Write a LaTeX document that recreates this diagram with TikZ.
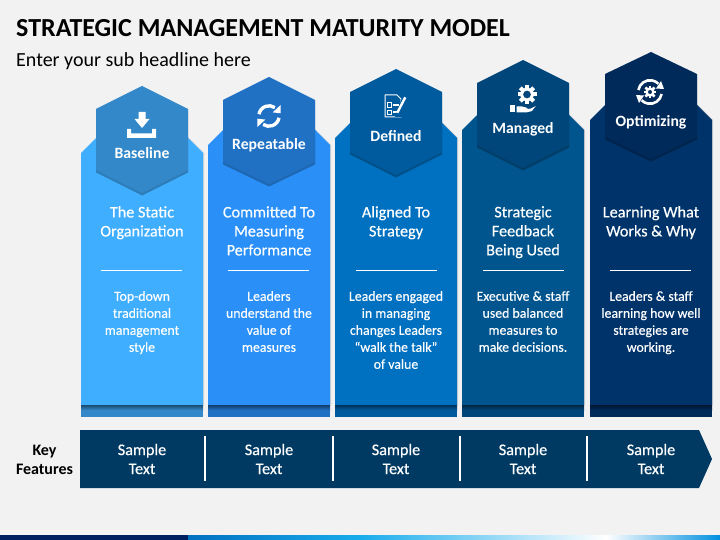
\documentclass[tikz,border=0pt]{standalone}
\usepackage{fontspec}
\setmainfont{Carlito}
\newfontfamily\slidefont{Carlito}[FakeBold=0.35]
\usetikzlibrary{shadows}
\definecolor{pageColor}{RGB}{242,242,242}
\definecolor{barColor}{RGB}{0,58,99}
\definecolor{stripDark}{RGB}{0,31,96}
\definecolor{stripLight}{RGB}{24,172,236}
\definecolor{stripEnd}{RGB}{0,144,224}
\definecolor{baseColor}{RGB}{64,174,255}
\definecolor{baseHex}{RGB}{50,136,200}
\definecolor{repColor}{RGB}{42,144,248}
\definecolor{repHex}{RGB}{32,112,196}
\definecolor{defColor}{RGB}{0,112,192}
\definecolor{defHex}{RGB}{0,90,158}
\definecolor{manColor}{RGB}{0,85,143}
\definecolor{manHex}{RGB}{0,70,122}
\definecolor{optColor}{RGB}{0,51,106}
\definecolor{optHex}{RGB}{0,42,90}
\tikzset{pillar/.style={fill=#1, drop shadow={shadow xshift=1pt, shadow yshift=0pt, fill=black, opacity=.12}}}
\tikzset{hexcell/.style={fill=#1, drop shadow={shadow xshift=0pt, shadow yshift=-2.5pt, fill=black, opacity=.28}}}
\tikzset{bandtop/.style={top color=#1!55!black, bottom color=#1}}
\tikzset{level/.style={text=white, inner sep=0pt, font=\fontsize{15.7}{16}\selectfont\bfseries}}
\tikzset{headtext/.style={text=white, inner sep=0pt, anchor=north, align=center, font=\slidefont\fontsize{16.2}{19}\selectfont}}
\tikzset{bodytext/.style={text=white, inner sep=0pt, anchor=north, align=center, font=\slidefont\fontsize{13.8}{17}\selectfont}}
\tikzset{sampletext/.style={text=white, inner sep=0pt, align=center, font=\slidefont\fontsize{16.2}{19}\selectfont}}
\tikzset{divider/.style={white, line width=1.2pt}}
\tikzset{iconat/.style={shift={#1}, y=1pt}}
\begin{document}
\begin{tikzpicture}[x=1pt, y=-1pt]
	\useasboundingbox (0,0) rectangle (720,540);
	\fill[pageColor] (0,0) rectangle (720,540);

	% Headlines
	\node (title) [anchor=base west, inner sep=0pt, font=\fontsize{26}{26}\selectfont\bfseries] at (16,37) {STRATEGIC MANAGEMENT MATURITY MODEL};
	\node (subtitle) [anchor=base west, inner sep=0pt, font=\fontsize{20}{20}\selectfont] at (16,67) {Enter your sub headline here};

	% Pillars
	\path[pillar=baseColor] (81,405) -- (81,153) -- (142,92) -- (203,153) -- (203,405) -- cycle;
	\path[pillar=repColor] (208,405) -- (208,145) -- (269,84) -- (330,145) -- (330,405) -- cycle;
	\path[pillar=defColor] (335,405) -- (335,138) -- (396,77) -- (457,138) -- (457,405) -- cycle;
	\path[pillar=manColor] (462,405) -- (462,130) -- (523,69) -- (584,130) -- (584,405) -- cycle;
	\path[pillar=optColor] (590,405) -- (590,120) -- (651,59) -- (712,120) -- (712,405) -- cycle;

	% Bands at the foot of the pillars
	\shade[bandtop=baseHex] (81,405) rectangle (203,410);
	\fill[baseHex] (81,410) rectangle (203,417);
	\shade[bandtop=repHex] (208,405) rectangle (330,410);
	\fill[repHex] (208,410) rectangle (330,417);
	\shade[bandtop=defHex] (335,405) rectangle (457,410);
	\fill[defHex] (335,410) rectangle (457,417);
	\shade[bandtop=manHex] (462,405) rectangle (584,410);
	\fill[manHex] (462,410) rectangle (584,417);
	\shade[bandtop=optHex] (590,405) rectangle (712,410);
	\fill[optHex] (590,410) rectangle (712,417);

	% Hexagons
	\path[hexcell=baseHex] (142,86) -- (188,109) -- (188,170) -- (142,193) -- (96,170) -- (96,109) -- cycle;
	\path[hexcell=repHex] (269,77) -- (315,100) -- (315,162) -- (269,184) -- (223,162) -- (223,100) -- cycle;
	\path[hexcell=defHex] (396,69) -- (442,92) -- (442,152) -- (396,175) -- (350,152) -- (350,92) -- cycle;
	\path[hexcell=manHex] (523,60) -- (569,83) -- (569,145) -- (523,168) -- (477,145) -- (477,83) -- cycle;
	\path[hexcell=optHex] (651,52) -- (697,74) -- (697,137) -- (651,159) -- (605,137) -- (605,74) -- cycle;

	% Icons
	\begin{scope}[iconat={(142,125)}]
		\fill[white] (-3.5,13) -- (3.5,13) -- (3.5,6) -- (7.5,6) -- (0,-3) -- (-7.5,6) -- (-3.5,6) -- cycle;
		\fill[white] (-15,-4) -- (-15,-13) -- (14,-13) -- (14,-4) -- (10,-4) -- (10,-8.5) -- (-11,-8.5) -- (-11,-4) -- cycle;
	\end{scope}
	\begin{scope}[iconat={(269,116)}]
		\draw[white, line width=3.4pt] (-10,1.8) arc (170:55:10.2);
		\fill[white] (11.7,11) -- (11.7,2.7) -- (3.6,3.6) -- cycle;
		\draw[white, line width=3.4pt] (10,-1.8) arc (-10:-125:10.2);
		\fill[white] (-11.7,-11) -- (-11.7,-2.7) -- (-3.6,-3.6) -- cycle;
	\end{scope}
	\begin{scope}[iconat={(393,106)}]
		\draw[white, line width=1pt, line join=round] (-8,11) -- (4,11) -- (8,7) -- (8,-11) -- (-8,-11) -- cycle;
		\draw[white, line width=.7pt] (-5.5,-1) rectangle (-1.5,3.5) (-5.5,-8.5) rectangle (-1.5,-4);
		\draw[white, line width=1.3pt] (0,1) -- (6,1) (0,-6) -- (6,-6);
		\fill[defHex] (2,-11) -- (9,-11) -- (13,8) -- (9,8) -- cycle;
		\draw[white, line width=2.4pt] (4.3,-6.7) -- (12.3,8.7);
	\end{scope}
	\begin{scope}[iconat={(527,94.5)}]
		\draw[white, line width=3pt] (0,0) circle (5.6);
		\foreach \toothangle in {0,45,...,315}
			\fill[white, rotate=\toothangle] (-2,6) rectangle (2,9.5);
		\fill[white] (-17,-11) rectangle (-12,-17.5);
		\fill[white] (-10.5,-12) -- (-5,-12) -- (-1,-13) -- (1,-14.5) -- (4,-14) -- (8.7,-11.5) -- (5,-16.5) -- (-1,-18) -- (-10.5,-18) -- cycle;
	\end{scope}
	\begin{scope}[iconat={(650,92)}]
		\draw[white, line width=2.6pt] (-11.6,2) arc (170:45:11.8);
		\fill[white] (14,3) -- (6,3.5) -- (11,11) -- cycle;
		\draw[white, line width=2.6pt] (11.6,-2) arc (-10:-135:11.8);
		\fill[white] (-14,-3) -- (-6,-3.5) -- (-11,-11) -- cycle;
		\draw[white, line width=2.4pt] (0,0) circle (3.4);
		\foreach \toothangle in {0,45,...,315}
			\fill[white, rotate=\toothangle] (-1.3,3.6) rectangle (1.3,6.4);
	\end{scope}

	% Level names
	\node (baseline) [level] at (142,153) {Baseline};
	\node (repeatable) [level] at (269,145) {Repeatable};
	\node (defined) [level] at (396,136) {Defined};
	\node (managed) [level] at (523,129.8) {Managed};
	\node (optimizing) [level] at (651,122.8) {Optimizing};

	% Pillar headings
	\node (statichead) [headtext] at (142,206) {The Static\\Organization};
	\node (repeathead) [headtext] at (269,206) {Committed To\\Measuring\\Performance};
	\node (alignedhead) [headtext] at (396,206) {Aligned To\\Strategy};
	\node (feedbackhead) [headtext] at (523,206) {Strategic\\Feedback\\Being Used};
	\node (learninghead) [headtext] at (651,206) {Learning What\\Works \& Why};

	% Rules
	\draw[divider] (101,270.5) -- (182,270.5);
	\draw[divider] (228,270.5) -- (309,270.5);
	\draw[divider] (356,270.5) -- (437,270.5);
	\draw[divider] (483,270.5) -- (564,270.5);
	\draw[divider] (610,270.5) -- (691,270.5);

	% Pillar bodies
	\node (staticbody) [bodytext] at (142,291) {Top-down\\traditional\\management\\style};
	\node (repeatbody) [bodytext] at (269,291) {Leaders\\understand the\\value of\\measures};
	\node (alignedbody) [bodytext] at (396,291) {Leaders engaged\\in managing\\changes Leaders\\“walk the talk”\\of value};
	\node (feedbackbody) [bodytext] at (523,291) {Executive \& staff\\used balanced\\measures to\\make decisions.};
	\node (learningbody) [bodytext] at (651,291) {Leaders \& staff\\learning how well\\strategies are\\working.};

	% Key features
	\fill[barColor] (80,430) -- (699,430) -- (712,459) -- (699,488) -- (80,488) -- cycle;
	\node (keyfeatures) [inner sep=0pt, align=center, font=\fontsize{16}{19}\selectfont\bfseries] at (44.5,459.5) {Key\\Features};
	\node (sample1) [sampletext] at (142,459) {Sample\\Text};
	\node (sample2) [sampletext] at (269,459) {Sample\\Text};
	\node (sample3) [sampletext] at (396,459) {Sample\\Text};
	\node (sample4) [sampletext] at (523,459) {Sample\\Text};
	\node (sample5) [sampletext] at (651,459) {Sample\\Text};
	\draw[white, line width=1.5pt] (205,436) -- (205,481);
	\draw[white, line width=1.5pt] (333,436) -- (333,481);
	\draw[white, line width=1.5pt] (460,436) -- (460,481);
	\draw[white, line width=1.5pt] (587,436) -- (587,481);

	% Bottom strip
	\fill[stripDark] (0,535) rectangle (188,540);
	\shade[left color=defColor, right color=stripLight] (188,535) rectangle (360,540);
	\shade[left color=stripLight, right color=white] (360,535) rectangle (606,540);
	\shade[left color=white, right color=stripEnd] (606,535) rectangle (720,540);
\end{tikzpicture}
\end{document}
